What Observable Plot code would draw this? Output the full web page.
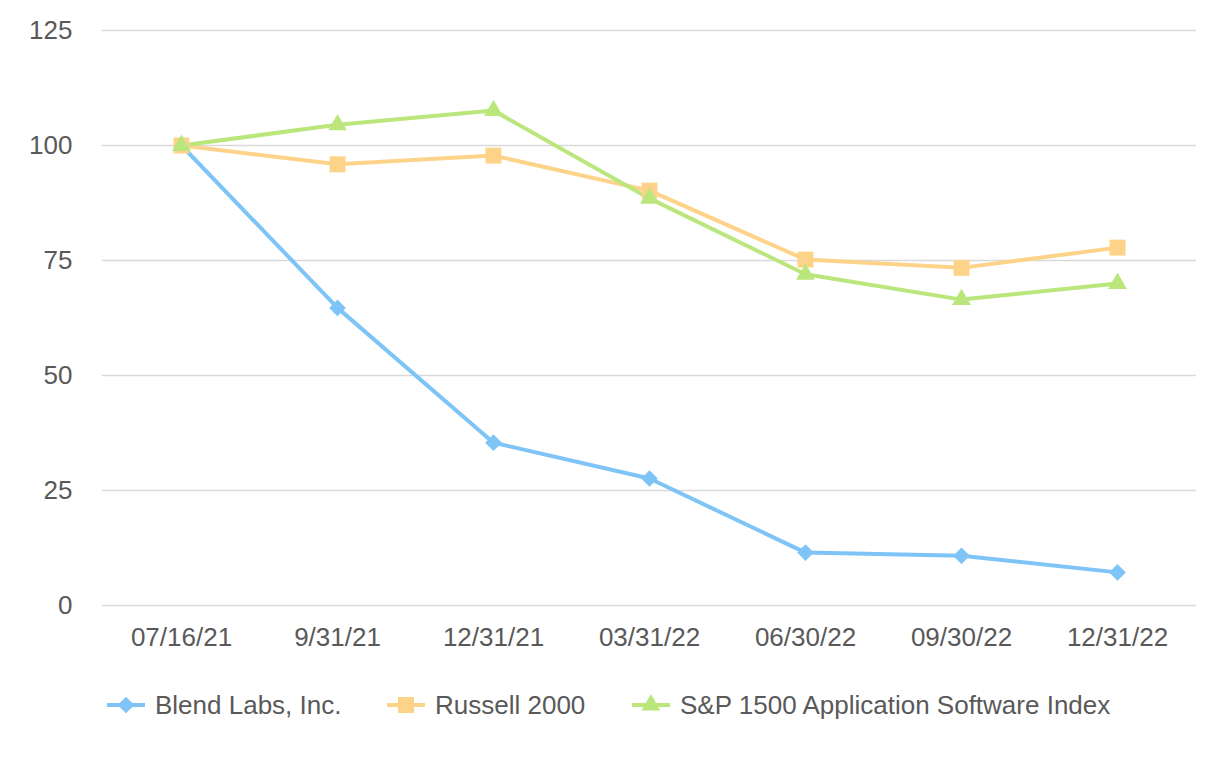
<!DOCTYPE html>
<html>
<head>
<meta charset="utf-8">
<script src="https://cdn.jsdelivr.net/npm/d3@7"></script>
<script src="https://cdn.jsdelivr.net/npm/@observablehq/plot@0.6"></script>
<style>
  body { margin: 0; background: #fff; font-family: "Liberation Sans", Arial, sans-serif; }
  #legend { display: flex; align-items: center; height: 30px; margin-top: 25px; padding-left: 107px; font-size: 26px; color: #595959; }
  .item { display: flex; align-items: center; margin-right: 10px; flex: none; }
  .item svg { margin-right: 10px; }
</style>
</head>
<body>
<div id="chart"></div>
<div id="legend"></div>
<script>
const dates = ["07/16/21", "9/31/21", "12/31/21", "03/31/22", "06/30/22", "09/30/22", "12/31/22"];
const seriesNames = ["Blend Labs, Inc.", "Russell 2000", "S&P 1500 Application Software Index"];
const blend = [100, 64.7, 35.4, 27.6, 11.5, 10.8, 7.2];
const russell = [100, 95.9, 97.8, 90.2, 75.2, 73.4, 77.8];
const sp1500 = [100, 104.5, 107.6, 88.5, 72.0, 66.5, 70.0];
const yTicks = [0, 25, 50, 75, 100, 125];
const colors = ["#7EC4F7", "#FDD38A", "#BAE67C"];
const symbols = ["diamond2", "square", "triangle"];
const sizes = [7.5, 9, 7];

const data = [];
[blend, russell, sp1500].forEach((vals, i) => {
  vals.forEach((v, j) => data.push({series: seriesNames[i], date: dates[j], value: v}));
});

const chart = Plot.plot({
  width: 1226,
  height: 665,
  marginLeft: 102,
  marginRight: 30,
  marginTop: 30,
  marginBottom: 60,
  style: {fontFamily: "'Liberation Sans', Arial, sans-serif", fontSize: "26px", color: "#595959", background: "#fff"},
  x: {type: "point", domain: dates, padding: 0.5, label: null},
  y: {domain: [0, 125], ticks: yTicks, label: null},
  color: {domain: seriesNames, range: colors},
  marks: [
    Plot.gridY(yTicks, {stroke: "#d9d9d9", strokeOpacity: 1, strokeWidth: 1.5}),
    Plot.axisY({ticks: yTicks, tickSize: 0, tickPadding: 30, fill: "#595959"}),
    Plot.axisX({tickSize: 0, tickPadding: 22, fill: "#595959"}),
    Plot.line(data, {x: "date", y: "value", z: "series", stroke: "series", strokeWidth: 4}),
    ...seriesNames.map((s, i) => Plot.dot(data.filter(d => d.series === s), {x: "date", y: "value", fill: colors[i], stroke: "none", symbol: symbols[i], r: sizes[i]}))
  ]
});
document.getElementById("chart").appendChild(chart);

const legend = d3.select("#legend");
const itemWidths = [270, 235, 520];
seriesNames.forEach((s, i) => {
  const it = legend.append("div").attr("class", "item").style("width", itemWidths[i] + "px");
  const svg = it.append("svg").attr("width", 38).attr("height", 30);
  svg.append("line").attr("x1", 0).attr("x2", 38).attr("y1", 15).attr("y2", 15).attr("stroke", colors[i]).attr("stroke-width", 4);
  const symType = [d3.symbolDiamond2, d3.symbolSquare, d3.symbolTriangle][i];
  svg.append("path").attr("transform", "translate(19,15)").attr("d", d3.symbol(symType, Math.PI * sizes[i] * sizes[i])()).attr("fill", colors[i]);
  it.append("span").text(s);
});
</script>
</body>
</html>
